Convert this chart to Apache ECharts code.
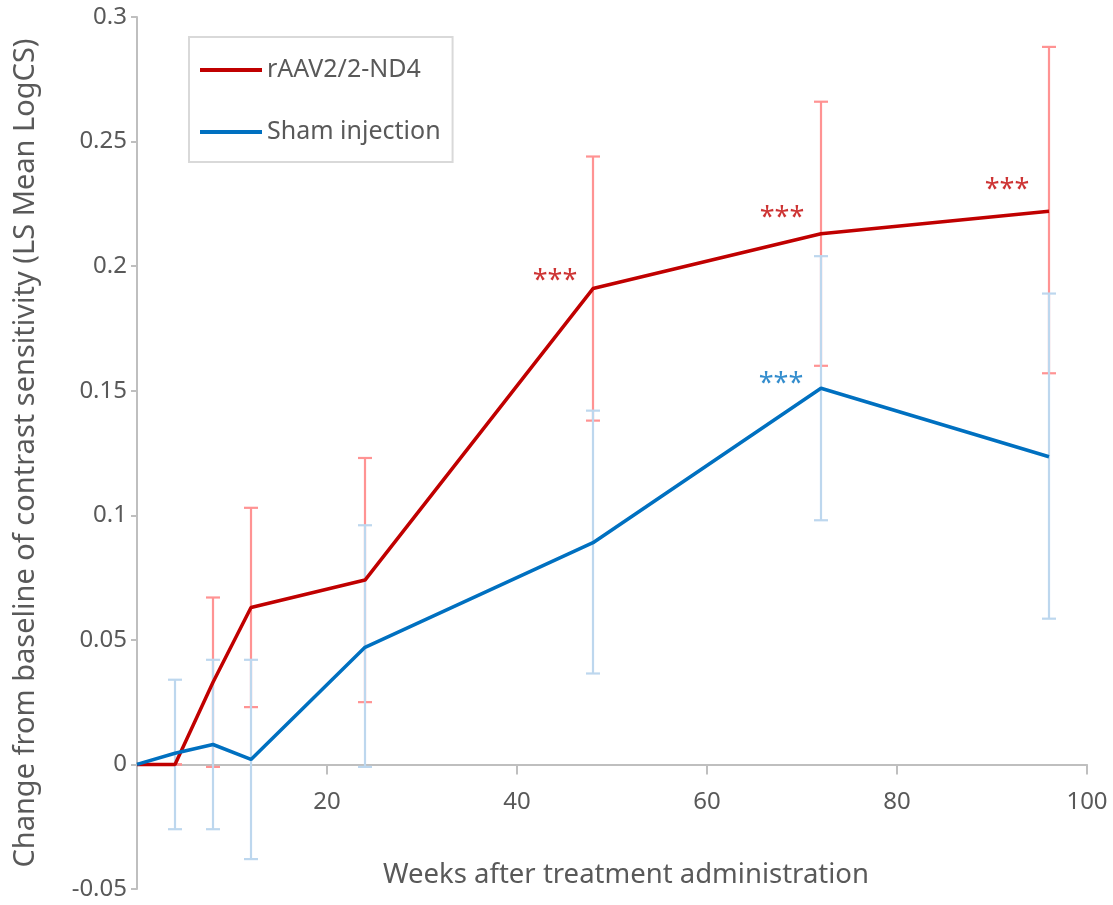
<!DOCTYPE html>
<html>
<head>
<meta charset="utf-8">
<script src="https://cdn.jsdelivr.net/npm/echarts@6/dist/echarts.min.js"></script>
<style>html,body{margin:0;padding:0;background:#fff}#c{width:1113px;height:905px}</style>
</head>
<body>
<div id="c"></div>
<script>
const weeks = [0, 4, 8, 12, 24, 48, 72, 96];
const rAAV = [0, 0, 0.033, 0.063, 0.074, 0.191, 0.213, 0.222];
const rAAVLow = [null, 0, -0.001, 0.023, 0.025, 0.138, 0.160, 0.157];
const rAAVHigh = [null, 0, 0.067, 0.103, 0.123, 0.244, 0.266, 0.288];
const sham = [0, 0.0045, 0.008, 0.002, 0.047, 0.089, 0.151, 0.1235];
const shamLow = [null, -0.026, -0.026, -0.038, -0.001, 0.0365, 0.098, 0.0585];
const shamHigh = [null, 0.034, 0.042, 0.042, 0.096, 0.142, 0.204, 0.189];
const sigRAAV = [48, 72, 96];
const sigSham = [72];
const seriesNames = ['rAAV2/2-ND4', 'Sham injection'];
const xTitle = 'Weeks after treatment administration';
const yTitle = 'Change from baseline of contrast sensitivity (LS Mean LogCS)';

const FONT = "'Noto Sans', 'Open Sans', sans-serif";
const TXT = '#595959';
const RED = '#c00000', BLUE = '#0070c0';
const RED_L = '#ff9393', BLUE_L = '#bdd7ee';
const Y_MIN = -0.05, Y_MAX = 0.3;
const GRID_TOP = 17, GRID_BOTTOM = 16, H = 905;
// distance from bottom of grid up to the zero line, in px
const zeroOffset = (H - GRID_TOP - GRID_BOTTOM) * (0 - Y_MIN) / (Y_MAX - Y_MIN);

function errData(lo, hi) {
  const out = [];
  weeks.forEach((w, i) => { if (lo[i] !== null) out.push([w, lo[i], hi[i]]); });
  return out;
}
function errSeries(lo, hi, color) {
  return {
    type: 'custom', silent: true, z: 1,
    data: errData(lo, hi),
    renderItem: function (params, api) {
      const x = api.value(0);
      const p1 = api.coord([x, api.value(1)]);
      const p2 = api.coord([x, api.value(2)]);
      const w = 7;
      const st = { stroke: color, lineWidth: 2.2 };
      return { type: 'group', children: [
        { type: 'line', shape: { x1: p1[0], y1: p1[1], x2: p2[0], y2: p2[1] }, style: st },
        { type: 'line', shape: { x1: p1[0] - w, y1: p1[1], x2: p1[0] + w, y2: p1[1] }, style: st },
        { type: 'line', shape: { x1: p2[0] - w, y1: p2[1], x2: p2[0] + w, y2: p2[1] }, style: st }
      ]};
    }
  };
}
function sigSeries(sig, vals, color, offsets) {
  return {
    type: 'scatter', silent: true, z: 5, symbolSize: 0.01,
    data: sig.map((w, k) => ({
      value: [w, vals[weeks.indexOf(w)]],
      label: { offset: offsets[k] }
    })),
    label: { show: true, position: 'inside', formatter: '***', color: color, fontSize: 27, fontFamily: FONT }
  };
}

const chart = echarts.init(document.getElementById('c'));
chart.setOption({
  animation: false,
  textStyle: { fontFamily: FONT },
  grid: { left: 137, right: 26, top: GRID_TOP, bottom: GRID_BOTTOM, containLabel: false, outerBoundsMode: 'none' },
  legend: {
    data: seriesNames, orient: 'vertical', left: 189, top: 37,
    padding: [19, 12, 16, 11], itemGap: 34, itemWidth: 62, itemHeight: 4,
    icon: 'rect', borderColor: '#d9d9d9', borderWidth: 2, backgroundColor: '#fff',
    textStyle: { fontSize: 25, color: TXT, fontFamily: FONT, lineHeight: 28 }
  },
  xAxis: {
    type: 'value', min: 0, max: 100, interval: 20, position: 'bottom',
    offset: -zeroOffset,
    name: xTitle, nameLocation: 'middle', nameGap: 97,
    nameTextStyle: { fontSize: 27.5, color: TXT, fontFamily: FONT, padding: [0, 0, 0, 28] },
    axisLine: { onZero: false, lineStyle: { color: '#bfbfbf', width: 2 } },
    axisTick: { length: 10, lineStyle: { color: '#bfbfbf', width: 2 } },
    axisLabel: { fontSize: 24, color: TXT, margin: 26, fontFamily: FONT, hideOverlap: false,
      formatter: v => v === 0 ? '' : String(v) },
    splitLine: { show: false }
  },
  yAxis: {
    type: 'value', min: Y_MIN, max: Y_MAX, interval: 0.05,
    name: yTitle, nameLocation: 'middle', nameGap: 97,
    nameTextStyle: { fontSize: 29, color: TXT, fontFamily: FONT },
    axisLine: { show: true, onZero: false, lineStyle: { color: '#bfbfbf', width: 2 } },
    axisTick: { show: true, length: 6, lineStyle: { color: '#bfbfbf', width: 2 } },
    axisLabel: { fontSize: 24, color: TXT, margin: 10, fontFamily: FONT,
      formatter: v => String(Math.round(v * 100) / 100) },
    splitLine: { show: false }
  },
  series: [
    errSeries(rAAVLow, rAAVHigh, RED_L),
    errSeries(shamLow, shamHigh, BLUE_L),
    {
      name: seriesNames[0], type: 'line', z: 3, symbol: 'none',
      data: weeks.map((w, i) => [w, rAAV[i]]),
      lineStyle: { color: RED, width: 3.5 }, itemStyle: { color: RED }
    },
    {
      name: seriesNames[1], type: 'line', z: 4, symbol: 'none',
      data: weeks.map((w, i) => [w, sham[i]]),
      lineStyle: { color: BLUE, width: 3.5 }, itemStyle: { color: BLUE }
    },
    sigSeries(sigRAAV, rAAV, RED, [[-38, -7], [-39, -15], [-42, -21]]),
    sigSeries(sigSham, sham, BLUE, [[-40, -4]])
  ]
});
</script>
</body>
</html>
